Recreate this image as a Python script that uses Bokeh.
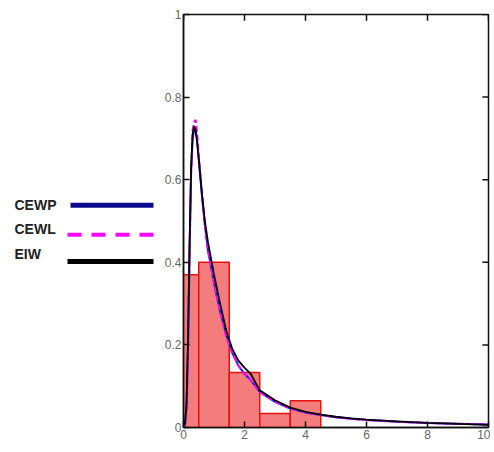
from bokeh.plotting import figure
from bokeh.models import Range1d, FixedTicker
from bokeh.layouts import row
from bokeh.embed import file_html
from bokeh.resources import INLINE
from bokeh.core.properties import value

# Histogram bins
bin_left = [0.0, 0.5, 1.5, 2.5, 3.5]
bin_right = [0.5, 1.5, 2.5, 3.5, 4.5]
bin_height = [0.37, 0.40, 0.133, 0.034, 0.065]

# Fitted curves
x_curve = [0, 0.05, 0.1, 0.15, 0.2, 0.25, 0.3, 0.35, 0.4, 0.45, 0.5, 0.6, 0.7, 0.8, 0.9, 1.0,
           1.2, 1.4, 1.6, 1.8, 2.0, 2.2, 2.5, 3.0, 3.5, 4.0, 4.5, 5.0, 5.5, 6.0, 7.0, 8.0, 9.0, 10.0]
eiw = [0, 0.01, 0.06, 0.22, 0.45, 0.63, 0.71, 0.73, 0.72, 0.69, 0.65, 0.57, 0.50, 0.45, 0.41, 0.37,
       0.30, 0.235, 0.19, 0.162, 0.145, 0.13, 0.09, 0.066, 0.048, 0.038, 0.031, 0.026, 0.022, 0.019,
       0.015, 0.011, 0.009, 0.0065]
cewl = [0, 0.005, 0.04, 0.18, 0.42, 0.62, 0.72, 0.74, 0.745, 0.71, 0.66, 0.57, 0.49, 0.43, 0.39, 0.35,
        0.28, 0.22, 0.18, 0.15, 0.13, 0.115, 0.085, 0.062, 0.046, 0.036, 0.030, 0.025, 0.021, 0.018,
        0.014, 0.011, 0.009, 0.007]
cewp = [0, 0.006, 0.05, 0.2, 0.43, 0.62, 0.70, 0.72, 0.72, 0.69, 0.65, 0.565, 0.49, 0.43, 0.39, 0.35,
        0.28, 0.225, 0.18, 0.15, 0.13, 0.115, 0.086, 0.062, 0.046, 0.036, 0.030, 0.025, 0.021, 0.018,
        0.014, 0.011, 0.009, 0.007]

x_ticks = [0, 2, 4, 6, 8, 10]
y_ticks = [0, 0.2, 0.4, 0.6, 0.8, 1.0]

legend_names = ["CEWP", "CEWL", "EIW"]
legend_colors = ["#0a0a8c", "#ff00ff", "#000000"]

H = 448
LW = 158

# ---------- legend panel ----------
lg = figure(width=LW, height=H, x_range=Range1d(0, LW), y_range=Range1d(H, 0),
            output_backend="svg", toolbar_location=None, min_border=0)
lg.axis.visible = False
lg.grid.visible = False
lg.outline_line_color = None
text_y = [207, 233, 260]
line_y = [207, 239, 268]
lg.text(x=[14, 14, 14], y=text_y, text=legend_names, text_font=value("Liberation Sans"),
        text_font_style="bold", text_font_size="14px", text_color="#222222",
        text_baseline="middle", text_align="left")
lg.segment(x0=[70], y0=[line_y[0]], x1=[153], y1=[line_y[0]], line_color=legend_colors[0], line_width=5)
lg.segment(x0=[67], y0=[line_y[1]], x1=[153], y1=[line_y[1]], line_color=legend_colors[1], line_width=4,
           line_dash="14 10")
lg.segment(x0=[67], y0=[line_y[2]], x1=[153], y1=[line_y[2]], line_color=legend_colors[2], line_width=5)

# ---------- main plot ----------
p = figure(width=332, height=H, x_range=Range1d(0, 10), y_range=Range1d(0, 1),
           output_backend="svg", toolbar_location=None,
           min_border_left=25, min_border_right=2, min_border_top=14, min_border_bottom=21)
p.grid.visible = False
p.outline_line_color = "#111111"
p.outline_line_width = 1.5

p.quad(left=bin_left, right=bin_right, bottom=0, top=bin_height,
       fill_color="#f47c7c", line_color="#e8100f", line_width=1.5)

p.line(x_curve, cewp, line_color="#2020e0", line_width=2)
p.line(x_curve, cewl, line_color="#ff00ff", line_width=2, line_dash="6 3")
p.line(x_curve, eiw, line_color="#000000", line_width=1.8)

# mirrored inward ticks on top and right borders
p.segment(x0=x_ticks, y0=[1.0] * len(x_ticks), x1=x_ticks, y1=[0.985] * len(x_ticks),
          line_color="#111111", line_width=1.5)
p.segment(x0=[10.0] * len(y_ticks), y0=y_ticks, x1=[9.8] * len(y_ticks), y1=y_ticks,
          line_color="#111111", line_width=1.5)

for ax in p.xaxis + p.yaxis:
    ax.axis_line_color = "#111111"
    ax.axis_line_width = 1.5
    ax.major_tick_out = 0
    ax.major_tick_in = 6
    ax.major_tick_line_color = "#111111"
    ax.major_tick_line_width = 1.5
    ax.minor_tick_line_color = None
    ax.major_label_text_font = "Liberation Sans"
    ax.major_label_text_font_size = "12px"
    ax.major_label_text_color = "#666666"
    ax.major_label_standoff = 2
p.xaxis.ticker = FixedTicker(ticks=x_ticks)
p.yaxis.ticker = FixedTicker(ticks=y_ticks)
p.xaxis.major_label_overrides = {0: "0", 2: "2", 4: "4", 6: "6", 8: "8", 10: "10"}
p.yaxis.major_label_overrides = {0: "0", 0.2: "0.2", 0.4: "0.4", 0.6: "0.6", 0.8: "0.8", 1.0: "1"}

layout = row(lg, p, spacing=0)
open("out.html", "w").write(file_html(layout, INLINE))
